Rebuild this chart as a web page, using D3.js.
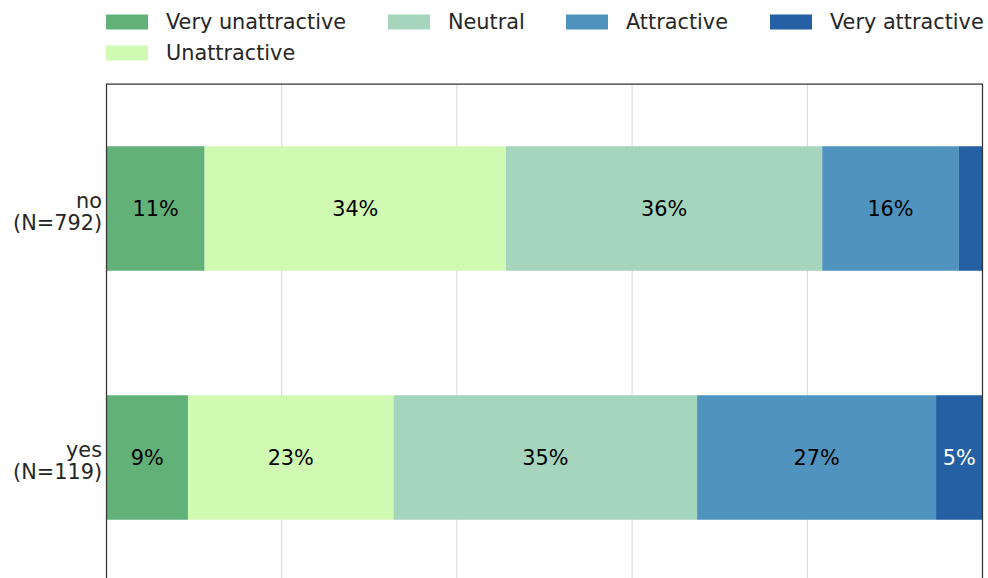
<!DOCTYPE html>
<html><head><meta charset="utf-8">
<script src="https://cdn.jsdelivr.net/npm/d3@7"></script>
<style>body{margin:0;background:#fff;} svg{display:block;font-family:"DejaVu Sans",sans-serif;}</style>
</head><body><svg id="c" width="988" height="578"></svg>
<script>
const groups = ["no", "yes"];
const groupLabels = [["no", "(N=792)"], ["yes", "(N=119)"]];
const categories = ["Very unattractive", "Unattractive", "Neutral", "Attractive", "Very attractive"];
const colors = ["#62b178", "#d0f9b2", "#a6d5bd", "#4f93be", "#2460a3"];
const valuesNo = [0.112, 0.344, 0.361, 0.156, 0.027];
const valuesYes = [0.093, 0.2347, 0.3465, 0.2728, 0.053];
const xTicks = [0, 0.2, 0.4, 0.6, 0.8, 1.0];

const data = [valuesNo, valuesYes];
const svg = d3.select("#c");
const L = 106.5, R = 982.5, T = 84, B = 582;
const FS = 20.8;
const x = d3.scaleLinear().domain([0, 1]).range([L, R]);
const y = d3.scaleBand().domain(groups).range([T, B]).paddingInner(0.5).paddingOuter(0.25);

// gridlines
svg.append("g").selectAll("line").data(xTicks.slice(1, -1)).join("line")
  .attr("x1", d => x(d)).attr("x2", d => x(d)).attr("y1", T).attr("y2", B)
  .attr("stroke", "#d6d6d6").attr("stroke-width", 1);

// bars
groups.forEach((g, gi) => {
  const vals = data[gi];
  let cum = 0;
  const segs = vals.map((v, i) => { const s = {g, i, v, x0: cum, x1: cum + v}; cum += v; return s; });
  const gg = svg.append("g");
  gg.selectAll("rect").data(segs).join("rect")
    .attr("x", d => x(d.x0)).attr("width", d => x(d.x1) - x(d.x0))
    .attr("y", y(g)).attr("height", y.bandwidth())
    .attr("fill", d => colors[d.i]);
  gg.selectAll("text").data(segs.filter(d => d.v >= 0.04)).join("text")
    .attr("x", d => x((d.x0 + d.x1) / 2)).attr("y", y(g) + y.bandwidth() / 2)
    .attr("text-anchor", "middle").attr("dy", "0.35em")
    .attr("font-size", FS)
    .attr("fill", d => d.i === 4 ? "#ffffff" : "#000000")
    .text(d => Math.round(d.v * 100) + "%");
});

// frame (left, top, right)
svg.append("path").attr("d", `M${L},${B}V${T}H${R}V${B}`)
  .attr("fill", "none").attr("stroke", "#333").attr("stroke-width", 1.25);

// y labels
groups.forEach((g, gi) => {
  const cy = y(g) + y.bandwidth() / 2;
  const t = svg.append("text").attr("x", 102).attr("text-anchor", "end")
    .attr("font-size", FS).attr("fill", "#262626");
  t.append("tspan").attr("x", 102).attr("y", cy - 1).text(groupLabels[gi][0]);
  t.append("tspan").attr("x", 102).attr("y", cy + 21).text(groupLabels[gi][1]);
});

// legend
const legPos = [[106, 22], [106, 53], [388, 22], [566, 22], [770, 22]];
categories.forEach((c, i) => {
  const [lx, ly] = legPos[i];
  svg.append("rect").attr("x", lx).attr("y", ly - 7.5).attr("width", 42).attr("height", 15).attr("fill", colors[i]);
  svg.append("text").attr("x", lx + 60).attr("y", ly).attr("dy", "0.35em")
    .attr("font-size", FS).attr("fill", "#262626").text(c);
});
</script></body></html>
